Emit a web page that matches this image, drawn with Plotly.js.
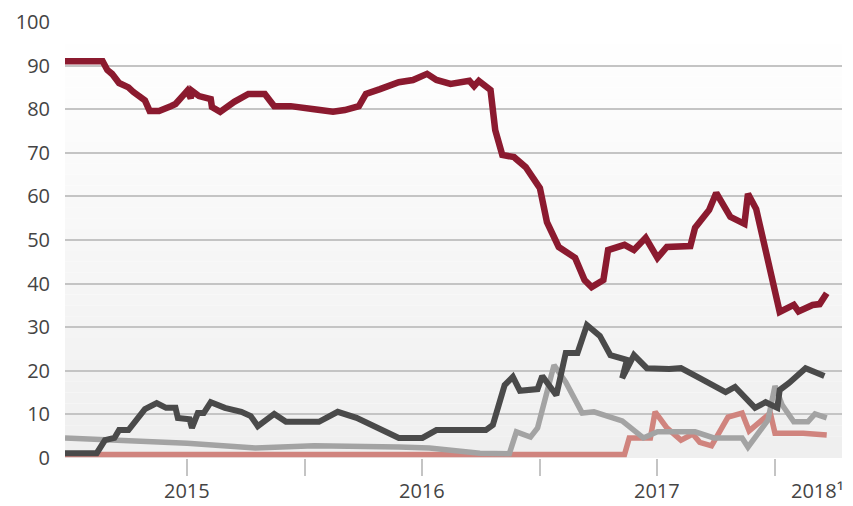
<!DOCTYPE html>
<html>
<head>
<meta charset="utf-8">
<script src="https://cdn.plot.ly/plotly-3.0.1.min.js"></script>
<style>html,body{margin:0;padding:0;background:#fff;}#chart{width:853px;height:506px;}</style>
</head>
<body>
<div id="chart"></div>
<script>
// Series values (x in decimal years, y in %)
const redX = [2014.98, 2015.14, 2015.16, 2015.18, 2015.21, 2015.25, 2015.27, 2015.30, 2015.32, 2015.34, 2015.38, 2015.43, 2015.45, 2015.48, 2015.50, 2015.515, 2015.52, 2015.55, 2015.58, 2015.60, 2015.605, 2015.64, 2015.70, 2015.76, 2015.83, 2015.87, 2015.94, 2015.98, 2016.04, 2016.12, 2016.17, 2016.23, 2016.26, 2016.32, 2016.40, 2016.46, 2016.52, 2016.56, 2016.62, 2016.70, 2016.72, 2016.74, 2016.79, 2016.81, 2016.84, 2016.89, 2016.94, 2017.00, 2017.03, 2017.08, 2017.15, 2017.19, 2017.22, 2017.27, 2017.29, 2017.36, 2017.40, 2017.45, 2017.50, 2017.54, 2017.64, 2017.66, 2017.72, 2017.75, 2017.81, 2017.87, 2017.885, 2017.92, 2018.02, 2018.08, 2018.10, 2018.16, 2018.19, 2018.22];
const redY = [91, 91, 89, 88.1, 86, 85, 84, 83, 82, 79.6, 79.6, 80.7, 81.2, 83, 84.2, 82.5, 84.2, 83, 82.6, 82.3, 80.5, 79.4, 81.7, 83.5, 83.5, 80.7, 80.7, 80.3, 80, 79.4, 79.8, 80.7, 83.5, 84.6, 86.2, 86.7, 88.1, 86.7, 85.8, 86.5, 85.3, 86.5, 84.4, 75.2, 69.5, 69, 66.7, 61.9, 54.1, 48.4, 45.9, 40.8, 39.2, 40.8, 47.7, 48.9, 47.7, 50.5, 45.9, 48.4, 48.6, 52.8, 56.9, 60.8, 55.3, 53.7, 60.6, 57.1, 33.5, 35.1, 33.6, 35.1, 35.3, 37.8];

const darkX = [2014.98, 2015.115, 2015.15, 2015.19, 2015.21, 2015.25, 2015.32, 2015.37, 2015.41, 2015.45, 2015.46, 2015.51, 2015.52, 2015.545, 2015.57, 2015.60, 2015.66, 2015.73, 2015.77, 2015.80, 2015.87, 2015.92, 2015.98, 2016.06, 2016.14, 2016.22, 2016.40, 2016.50, 2016.56, 2016.77, 2016.80, 2016.85, 2016.885, 2016.915, 2016.99, 2017.01, 2017.07, 2017.11, 2017.16, 2017.20, 2017.255, 2017.30, 2017.37, 2017.35, 2017.40, 2017.455, 2017.55, 2017.60, 2017.68, 2017.79, 2017.83, 2017.915, 2017.96, 2018.01, 2018.02, 2018.06, 2018.13, 2018.21];
const darkY = [1.1, 1.1, 4.1, 4.6, 6.4, 6.4, 11.2, 12.6, 11.5, 11.5, 9.2, 8.9, 6.9, 10.3, 10.3, 12.8, 11.5, 10.6, 9.6, 7.3, 10.1, 8.3, 8.3, 8.3, 10.6, 9.2, 4.6, 4.6, 6.4, 6.4, 7.6, 16.7, 18.6, 15.4, 15.8, 18.8, 14.4, 24.1, 24.1, 30.5, 28, 23.6, 22.5, 18.3, 23.6, 20.6, 20.4, 20.6, 18.3, 15.1, 16.3, 11.5, 12.8, 11.5, 15.6, 17.2, 20.6, 18.8];

const lightX = [2014.98, 2015.22, 2015.50, 2015.79, 2016.04, 2016.40, 2016.53, 2016.745, 2016.85, 2016.87, 2016.90, 2016.96, 2016.99, 2017.06, 2017.11, 2017.18, 2017.23, 2017.35, 2017.44, 2017.50, 2017.66, 2017.74, 2017.86, 2017.885, 2017.97, 2018.00, 2018.03, 2018.08, 2018.14, 2018.17, 2018.22];
const lightY = [4.6, 4.0, 3.4, 2.3, 2.8, 2.5, 2.3, 1.1, 0.9, 1.0, 6.0, 4.8, 6.9, 21.3, 17.4, 10.3, 10.6, 8.5, 4.6, 6.0, 6.0, 4.6, 4.6, 2.5, 8.7, 16.5, 12.2, 8.3, 8.3, 10.1, 9.2];

const pinkX = [2014.98, 2017.36, 2017.38, 2017.47, 2017.49, 2017.54, 2017.60, 2017.65, 2017.68, 2017.73, 2017.80, 2017.86, 2017.89, 2017.98, 2018.00, 2018.12, 2018.22];
const pinkY = [0.8, 0.8, 4.6, 4.6, 10.6, 6.9, 4.1, 5.5, 3.6, 2.8, 9.4, 10.3, 6.2, 10.3, 5.7, 5.7, 5.3];

const yTicks = [0, 10, 20, 30, 40, 50, 60, 70, 80, 90, 100];
const xTickVals = [2015.5, 2016, 2016.5, 2017, 2017.5, 2018];
const yearLabels = ['2015', '2016', '2017', '2018¹'];
const yearLabelPos = [2015.5, 2016.5, 2017.5, 2018.18];

const font = 'Open Sans, Noto Sans, sans-serif';
const traces = [
  {x: pinkX, y: pinkY, color: '#d0847e', w: 5.5},
  {x: lightX, y: lightY, color: '#a3a3a3', w: 5.5},
  {x: darkX, y: darkY, color: '#4a4a4a', w: 6},
  {x: redX, y: redY, color: '#8b1a2f', w: 6.5}
].map(t => ({
  type: 'scatter', mode: 'lines', x: t.x, y: t.y,
  line: {color: t.color, width: t.w, shape: 'linear'},
  hoverinfo: 'skip'
}));

// background gradient bands (white at top to light grey at bottom)
const shapes = [];
const nb = 40;
for (let i = 0; i < nb; i++) {
  const f = i / (nb - 1);
  const c = Math.round(239 + (255 - 239) * f);
  shapes.push({type: 'rect', xref: 'paper', yref: 'y', x0: 0, x1: 1,
    y0: 100 * i / nb, y1: 100 * (i + 1) / nb, line: {width: 0},
    fillcolor: `rgb(${c},${c},${c})`, layer: 'below'});
}

const annotations = yearLabels.map((t, i) => ({
  text: t, x: yearLabelPos[i], xref: 'x', y: 0, yref: 'paper',
  yshift: -47, yanchor: 'bottom', xanchor: 'center', showarrow: false,
  borderpad: 0,
  font: {family: font, size: 20, color: '#444'}
}));

const layout = {
  width: 853, height: 506,
  margin: {l: 65, r: 11, t: 22, b: 48},
  paper_bgcolor: '#ffffff', plot_bgcolor: 'rgba(0,0,0,0)',
  showlegend: false,
  font: {family: font, size: 20, color: '#444'},
  xaxis: {
    range: [2014.98, 2018.285], showgrid: false, zeroline: false, showline: false,
    tickvals: xTickVals, ticktext: xTickVals.map(() => ''),
    ticks: 'outside', ticklen: 17, tickwidth: 2, tickcolor: '#c4c4c4'
  },
  yaxis: {
    range: [0, 100], tickvals: yTicks, ticktext: yTicks.map(String),
    showgrid: true, gridcolor: '#c4c4c4', gridwidth: 2, zeroline: false, showline: false,
    ticks: '', ticklabelstandoff: 14,
    tickfont: {family: font, size: 20, color: '#444'}
  },
  shapes: shapes,
  annotations: annotations
};

Plotly.newPlot('chart', traces, layout, {displayModeBar: false, staticPlot: true});
</script>
</body>
</html>
